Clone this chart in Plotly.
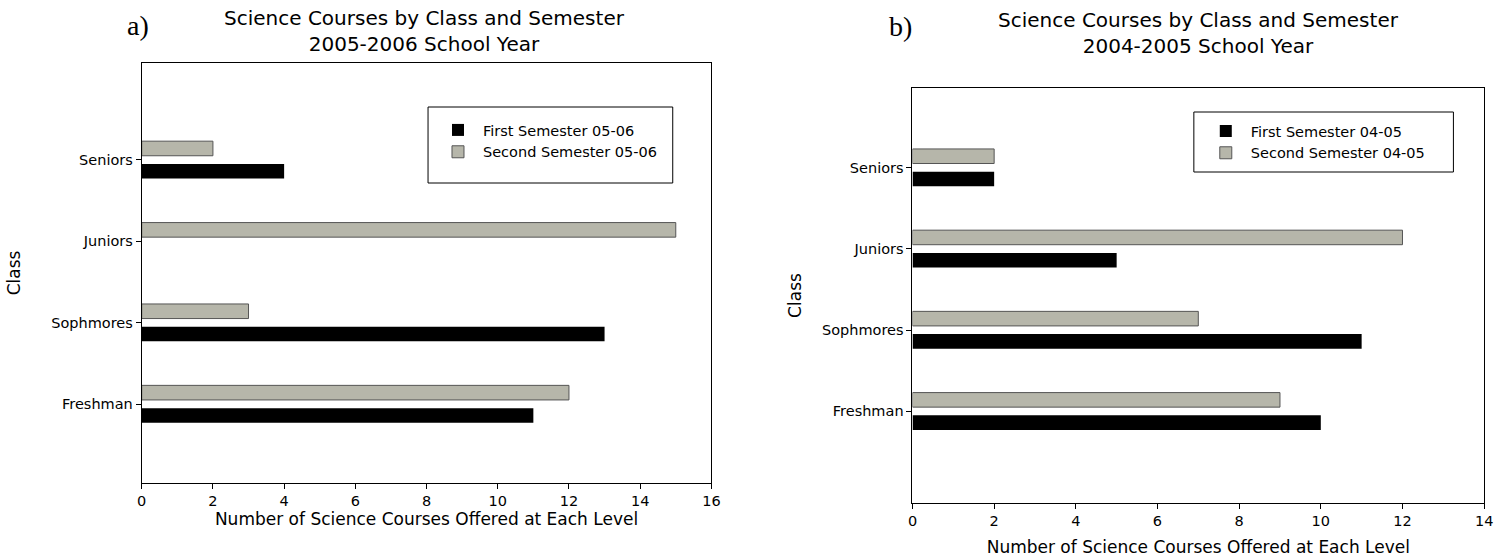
import plotly.graph_objects as go

classes = ["Freshman", "Sophmores", "Juniors", "Seniors"]

first_0506 = [11, 13, 0, 4]
second_0506 = [12, 3, 15, 2]
first_0405 = [10, 11, 5, 2]
second_0405 = [9, 7, 12, 2]

names_a = ["First Semester 05-06", "Second Semester 05-06"]
names_b = ["First Semester 04-05", "Second Semester 04-05"]

x_ticks_a = [0, 2, 4, 6, 8, 10, 12, 14, 16]
x_ticks_b = [0, 2, 4, 6, 8, 10, 12, 14]

BLACK = "#000000"
GRAY = "#b6b6aa"
FONT = "DejaVu Sans, Arial, sans-serif"
SERIF = "Liberation Serif, Times New Roman, serif"

fig = go.Figure()

fig.add_trace(go.Bar(y=classes, x=first_0506, orientation="h", name=names_a[0],
                     marker=dict(color=BLACK, line=dict(width=0)),
                     xaxis="x", yaxis="y", legend="legend"))
fig.add_trace(go.Bar(y=classes, x=second_0506, orientation="h", name=names_a[1],
                     marker=dict(color=GRAY, line=dict(color="#555555", width=1)),
                     xaxis="x", yaxis="y", legend="legend"))
fig.add_trace(go.Bar(y=classes, x=first_0405, orientation="h", name=names_b[0],
                     marker=dict(color=BLACK, line=dict(width=0)),
                     xaxis="x2", yaxis="y2", legend="legend2"))
fig.add_trace(go.Bar(y=classes, x=second_0405, orientation="h", name=names_b[1],
                     marker=dict(color=GRAY, line=dict(color="#555555", width=1)),
                     xaxis="x2", yaxis="y2", legend="legend2"))

W, H = 1507, 557
def px_x(p): return p / W
def px_y(p): return 1 - p / H

axis_common = dict(showline=True, linecolor="black", linewidth=1, mirror=True,
                   ticks="outside", ticklen=5, tickcolor="black", showgrid=False,
                   zeroline=False, tickfont=dict(family=FONT, size=14.5, color="black"))

fig.update_layout(
    width=W, height=H,
    margin=dict(l=0, r=0, t=0, b=0),
    paper_bgcolor="white", plot_bgcolor="white",
    barmode="group", bargap=0.44, bargroupgap=0.36,
    font=dict(family=FONT, color="black"),
    xaxis=dict(domain=[px_x(138), px_x(713)], range=[0, 16], tickvals=x_ticks_a,
               anchor="y",
               title=dict(text="Number of Science Courses Offered at Each Level",
                          font=dict(family=FONT, size=17), standoff=2),
               **axis_common),
    yaxis=dict(domain=[px_y(483), px_y(63)], range=[-0.97, 4.19], anchor="x",
               type="category",
               title=dict(text="Class", font=dict(family=FONT, size=17), standoff=26),
               **axis_common),
    xaxis2=dict(domain=[px_x(916), px_x(1493)], range=[0, 14], tickvals=x_ticks_b,
                anchor="y2",
                title=dict(text="Number of Science Courses Offered at Each Level",
                           font=dict(family=FONT, size=17), standoff=12),
                **axis_common),
    yaxis2=dict(domain=[px_y(503), px_y(88)], range=[-1.13, 3.98], anchor="x2",
                type="category",
                title=dict(text="Class", font=dict(family=FONT, size=17), standoff=16),
                **axis_common),
    legend=dict(x=px_x(432), y=px_y(114), xanchor="left", yanchor="top",
                bgcolor="rgba(0,0,0,0)", borderwidth=0,
                traceorder="normal", font=dict(family=FONT, size=14.5),
                tracegroupgap=0, itemwidth=40),
    legend2=dict(x=px_x(1207), y=px_y(115), xanchor="left", yanchor="top",
                 bgcolor="rgba(0,0,0,0)", borderwidth=0,
                 traceorder="normal", font=dict(family=FONT, size=14.5),
                 tracegroupgap=0, itemwidth=40),
    shapes=[
        dict(type="rect", xref="paper", yref="paper",
             x0=px_x(427), x1=px_x(674), y0=px_y(183), y1=px_y(107),
             line=dict(color="black", width=1), fillcolor="white", layer="below"),
        dict(type="rect", xref="paper", yref="paper",
             x0=px_x(1200), x1=px_x(1462), y0=px_y(172), y1=px_y(112),
             line=dict(color="black", width=1), fillcolor="white", layer="below"),
    ],
    annotations=[
        dict(text="a)", x=px_x(134), y=px_y(25), xref="paper", yref="paper",
             xanchor="center", yanchor="middle",
             showarrow=False, font=dict(family=SERIF, size=28)),
        dict(text="Science Courses by Class and Semester<br>2005-2006 School Year",
             x=px_x(423), y=px_y(31), xref="paper", yref="paper", showarrow=False,
             xanchor="center", yanchor="middle",
             font=dict(family=FONT, size=20)),
        dict(text="b)", x=px_x(904), y=px_y(26), xref="paper", yref="paper",
             xanchor="center", yanchor="middle",
             showarrow=False, font=dict(family=SERIF, size=28)),
        dict(text="Science Courses by Class and Semester<br>2004-2005 School Year",
             x=px_x(1205), y=px_y(33), xref="paper", yref="paper", showarrow=False,
             xanchor="center", yanchor="middle",
             font=dict(family=FONT, size=20)),
    ],
)

fig.write_html("out.html", config={"displayModeBar": False},
               post_script="document.body.style.margin='0';document.body.style.overflow='hidden';")
